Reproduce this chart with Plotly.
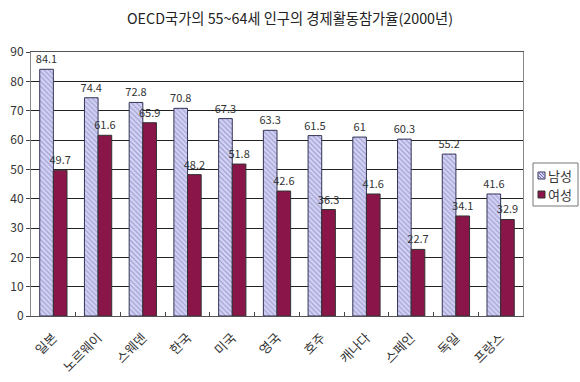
import plotly.graph_objects as go

categories = ["일본", "노르웨이", "스웨덴", "한국", "미국", "영국", "호주", "캐나다", "스페인", "독일", "프랑스"]
male = [84.1, 74.4, 72.8, 70.8, 67.3, 63.3, 61.5, 61, 60.3, 55.2, 41.6]
female = [49.7, 61.6, 65.9, 48.2, 51.8, 42.6, 36.3, 41.6, 22.7, 34.1, 32.9]
y_ticks = [0, 10, 20, 30, 40, 50, 60, 70, 80, 90]
series_names = ["남성", "여성"]

FONT = "Noto Sans CJK KR, DejaVu Sans, sans-serif"
MALE_BG = "#d4d4fa"
MALE_FG = "#7070a0"
FEMALE = "#8a1548"

W, H = 580, 382
L, R, T, B = 31, 57, 52, 66
PW, PH = W - L - R, H - T - B


def px(x):
    return (x - L) / PW


def py(y):
    return (H - B - y) / PH


fig = go.Figure()
fig.add_trace(go.Bar(
    x=categories, y=male, name=series_names[0],
    marker=dict(color=MALE_BG, line=dict(color="#333355", width=1),
                pattern=dict(shape="\\", fgcolor=MALE_FG, bgcolor=MALE_BG, size=3.5, solidity=0.35)),
    text=[str(v) for v in male], textposition="outside", cliponaxis=False,
    constraintext="none", textangle=0,
    textfont=dict(size=11, color="#333333", family=FONT),
))
fig.add_trace(go.Bar(
    x=categories, y=female, name=series_names[1],
    marker=dict(color=FEMALE, line=dict(color="#333333", width=1)),
    text=[str(v) for v in female], textposition="outside", cliponaxis=False,
    constraintext="none", textangle=0,
    textfont=dict(size=11, color="#333333", family=FONT),
))

# manual legend (box, swatches, labels)
shapes = [
    dict(type="rect", xref="paper", yref="paper", x0=px(533), x1=px(578), y0=py(163), y1=py(206),
         line=dict(color="#777777", width=1), fillcolor="white", layer="above"),
    dict(type="rect", xref="paper", yref="paper", x0=px(538), x1=px(545), y0=py(172), y1=py(179),
         line=dict(color="#333355", width=1), fillcolor=MALE_BG, layer="above"),
    dict(type="line", xref="paper", yref="paper", x0=px(538.5), x1=px(544.5), y0=py(172.5), y1=py(178.5),
         line=dict(color=MALE_FG, width=1), layer="above"),
    dict(type="line", xref="paper", yref="paper", x0=px(541.5), x1=px(544.5), y0=py(172.5), y1=py(175.5),
         line=dict(color=MALE_FG, width=1), layer="above"),
    dict(type="line", xref="paper", yref="paper", x0=px(538.5), x1=px(541.5), y0=py(175.5), y1=py(178.5),
         line=dict(color=MALE_FG, width=1), layer="above"),
    dict(type="rect", xref="paper", yref="paper", x0=px(538), x1=px(545), y0=py(191), y1=py(198),
         line=dict(color="#333333", width=1), fillcolor=FEMALE, layer="above"),
]
annotations = [
    dict(text=series_names[0], xref="paper", yref="paper", x=px(546), y=py(175.5),
         xanchor="left", yanchor="middle", showarrow=False, font=dict(size=13, color="#333333", family=FONT)),
    dict(text=series_names[1], xref="paper", yref="paper", x=px(546), y=py(194.5),
         xanchor="left", yanchor="middle", showarrow=False, font=dict(size=13, color="#333333", family=FONT)),
]

fig.update_layout(
    width=W, height=H,
    margin=dict(l=L, r=R, t=T, b=B, autoexpand=False),
    paper_bgcolor="white", plot_bgcolor="white",
    barmode="group", bargap=0.39, bargroupgap=0,
    font=dict(family=FONT, size=12, color="#333333"),
    title=dict(text="OECD국가의 55~64세 인구의 경제활동참가율(2000년)",
               x=0.5, xanchor="center", y=0.95, yanchor="middle",
               font=dict(size=14.3, color="#222222", family=FONT)),
    showlegend=False,
    shapes=shapes,
    annotations=annotations,
)
fig.update_yaxes(range=[0, 90], tickvals=y_ticks, showgrid=True, gridcolor="#222222", gridwidth=1,
                 showline=True, linecolor="#888888", mirror=True, ticks="outside", ticklen=4,
                 tickcolor="#444444", tickfont=dict(size=12, color="#333333"), zeroline=False)
fig.update_xaxes(tickangle=-45, showline=True, linecolor="#555555", mirror=True,
                 ticks="inside", tickson="boundaries", ticklen=4, tickcolor="#444444",
                 ticklabelstandoff=8,
                 tickfont=dict(size=13, color="#333333"))

fig.write_html("out.html", config={"displayModeBar": False},
               post_script="document.body.style.margin='0';document.body.style.overflow='hidden';")
